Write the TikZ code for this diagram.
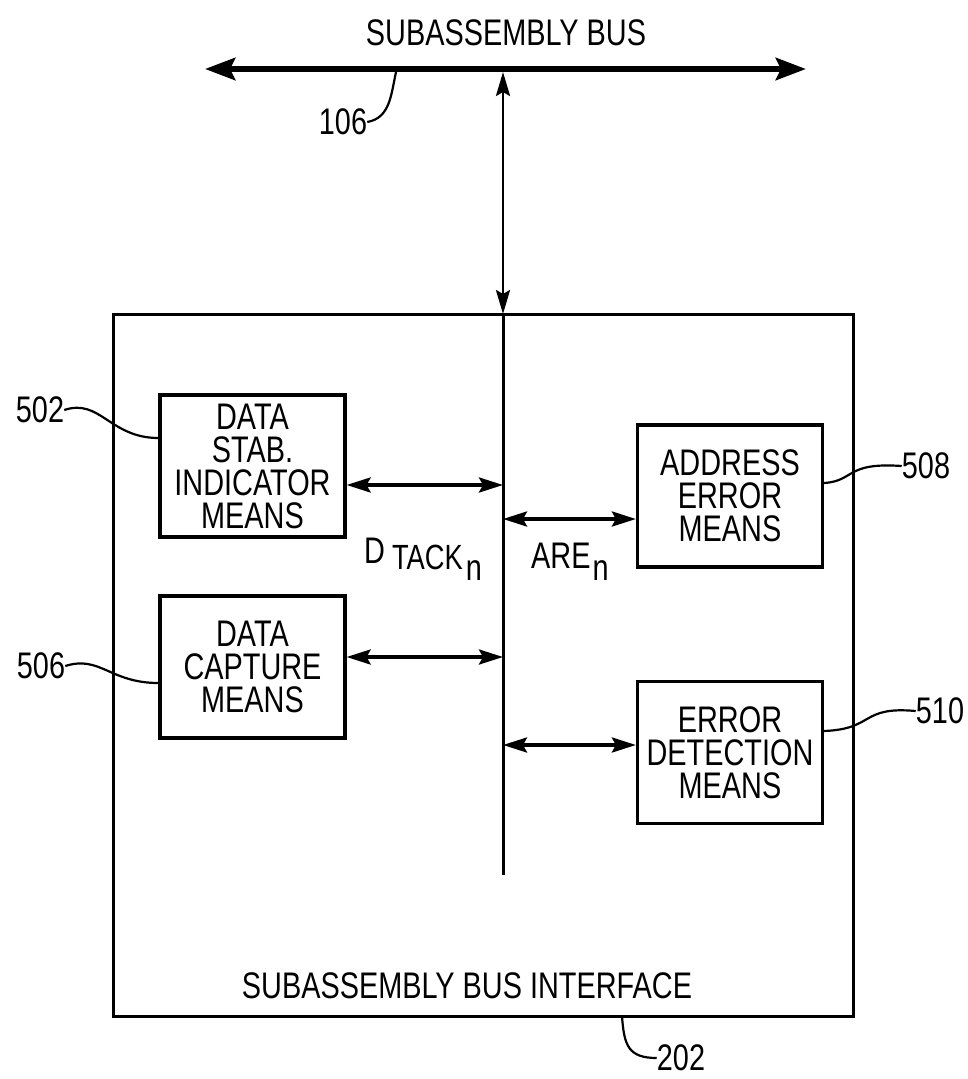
\documentclass[tikz,border=0pt]{standalone}
\usepackage{fontspec}
\setmainfont{Liberation Sans}[FakeStretch=0.78]
\usetikzlibrary{arrows.meta}
\tikzset{
  box/.style= {draw, line width=3.2pt, minimum width=185pt, minimum height=142pt,
               inner sep=0pt, align=center, font=\fontsize{37}{33}\selectfont},
  num/.style= {font=\fontsize{37}{37}\selectfont, inner sep=0pt},
  tip/.style= {Stealth[length=24pt,width=15pt,inset=4pt]},
  link/.style= {line width=3.4pt, {Stealth[length=24pt,width=15pt,inset=4pt]}-{Stealth[length=24pt,width=15pt,inset=4pt]}},
  lead/.style= {line width=2.2pt},
}
\begin{document}
\begin{tikzpicture}[x=1pt, y=-1pt]
  \useasboundingbox (0,0) rectangle (968,1079);
  % bus
  \node [num] (title) at (506,33) {SUBASSEMBLY BUS} ;
  \coordinate (busL) at (205,69) ;
  \coordinate (busR) at (806,69) ;
  \coordinate (tap) at (503,72) ;
  \draw [line width=6pt, {Stealth[length=30pt,width=22pt,inset=5pt]}-{Stealth[length=30pt,width=22pt,inset=5pt]}] (busL) -- (busR) ;

  % interface box and spine
  \draw [line width=3pt] (113,314) rectangle (853,1016) ;
  \coordinate (top) at (503,314) ;
  \coordinate (bot) at (503,875) ;
  \draw [line width=3pt] (top) -- (bot) ;
  \draw [line width=2.8pt, {Stealth[length=24pt,width=14pt,inset=4pt]}-{Stealth[length=24pt,width=14pt,inset=4pt]}] (tap) -- (top) ;
  \node [num] (iface) at (467,986) {SUBASSEMBLY BUS INTERFACE} ;

  % means blocks
  \node [box] (stab) at (252.5,466) {DATA\\STAB.\\INDICATOR\\MEANS} ;
  \node [box] (capt) at (252.5,667) {DATA\\CAPTURE\\MEANS} ;
  \node [box] (addr) at (730,496) {ADDRESS\\ERROR\\MEANS} ;
  \node [box] (errd) at (730,752.5) {ERROR\\DETECTION\\MEANS} ;

  \coordinate (s1) at (503,485) ;
  \coordinate (s2) at (503,657) ;
  \coordinate (s3) at (503,519) ;
  \coordinate (s4) at (503,745) ;
  \draw [link] (stab.east |- s1) -- (s1) ;
  \draw [link] (capt.east |- s2) -- (s2) ;
  \draw [link] (s3) -- (addr.west |- s3) ;
  \draw [link] (s4) -- (errd.west |- s4) ;

  \node [num, anchor=base west] (dtack) at (364,563)
    {D\hspace{7pt}\raisebox{-6pt}{\fontsize{35}{35}\selectfont TACK}\hspace{3pt}\raisebox{-17pt}{n}} ;
  \node [num, anchor=base west] (aren) at (531,568) {ARE\hspace{2pt}\raisebox{-12pt}{n}} ;

  % reference numerals
  \node [num] (n106) at (343,122) {106} ;
  \node [num] (n502) at (40,410) {502} ;
  \node [num] (n506) at (41,666) {506} ;
  \node [num] (n508) at (926,466) {508} ;
  \node [num] (n510) at (940,711) {510} ;
  \node [num] (n202) at (681,1058) {202} ;

  \draw [lead] (n106.east) .. controls (390,118) and (391,95) .. (396,72) ;
  \draw [lead] (n502.east) .. controls (100,398) and (110,438) .. (stab.west |- 0,438) ;
  \draw [lead] (n506.east) .. controls (100,655) and (110,683) .. (capt.west |- 0,683) ;
  \draw [lead] (addr.east |- 0,483) .. controls (855,481) and (845,462) .. (n508.west) ;
  \draw [lead] (errd.east |- 0,731) .. controls (875,729) and (860,706) .. (n510.west) ;
  \draw [lead] (622,1016) .. controls (624,1045) and (628,1058) .. (n202.west) ;
\end{tikzpicture}
\end{document}
